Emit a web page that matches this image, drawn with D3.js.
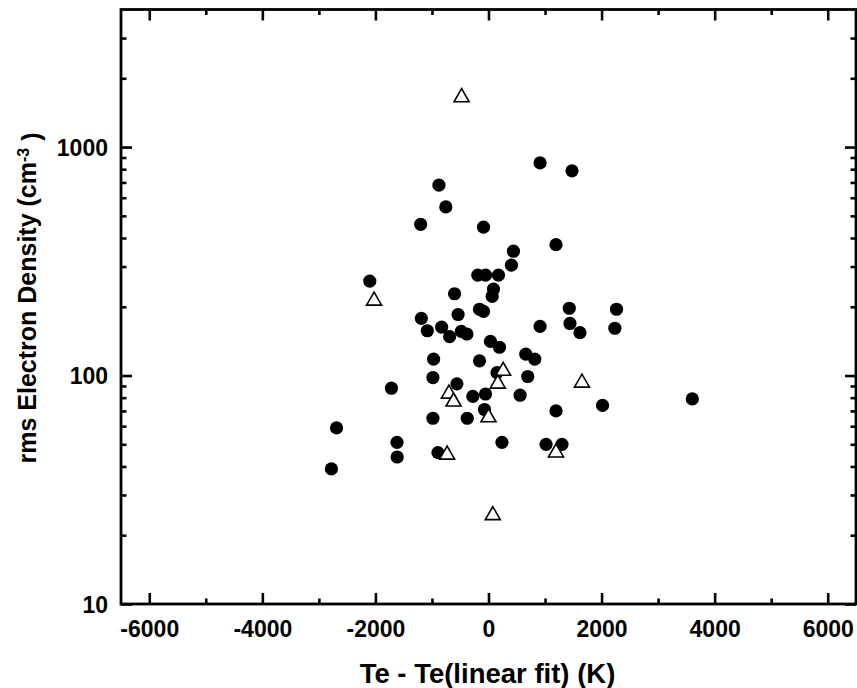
<!DOCTYPE html>
<html>
<head>
<meta charset="utf-8">
<script src="https://cdn.jsdelivr.net/npm/d3@7"></script>
<style>
  html, body { margin: 0; padding: 0; background: #fff; }
  svg { display: block; }
  text { font-family: "Liberation Sans", Arial, Helvetica, sans-serif; fill: #000; }
</style>
</head>
<body>
<svg id="chart" width="857" height="688"></svg>
<script>
// ---- data ----
const circleX = [-877,-755,-1200,-88,441,406,-189,-53,176,-2100,88,65,-600,-159,-88,-538,-1188,-1082,-829,-688,-482,-382,35,194,659,818,912,1429,1441,1618,2264,2235,912,1477,1194,-971,-159,150,694,-983,-1717,-559,-277,-53,559,-71,-983,-376,-2688,-1618,-1615,-894,238,-2779,1194,2017,3605,1018,1300];
const circleY = [681,547,459,446,350,304,275,275,275,259,239,222,228,195,191,185,178,157,163,148,156,152,141,133,124,118,164,197,169,154,195,161,852,787,374,118,116,103,99,98,88,92,81,83,82,71,65,65,59,51,44,46,51,39,70,74,79,50,50];
const triX = [-476,-2024,259,164,-700,-618,0,-732,1194,1653,76];
const triY = [1686,217,107,94,85,78.5,67,46,47,95,25];

const xTicks = [-6000,-4000,-2000,0,2000,4000,6000];
const xMinorTicks = [-5000,-3000,-1000,1000,3000,5000];
const yTicks = [10,100,1000];
const yMinorTicks = [20,30,40,50,60,70,80,90,200,300,400,500,600,700,800,900,2000,3000];
const xDomain = [-6500, 6500];
const yDomain = [10, 4000];
const xTitle = "Te - Te(linear fit) (K)";

// ---- layout ----
const L = 121, R = 856, T = 9.5, B = 604;
const svg = d3.select("#chart");
const x = d3.scaleLinear().domain(xDomain).range([L, R]);
const y = d3.scaleLog().domain(yDomain).range([B, T]);
const fmt = d => String(d);

const tickW = 2.6;
// bottom axis (ticks inward)
const gB = svg.append("g").attr("transform", `translate(0,${B})`);
gB.call(d3.axisBottom(x).tickValues(xTicks).tickSizeInner(-11).tickSizeOuter(0).tickPadding(17).tickFormat(fmt));
const gBm = svg.append("g").attr("transform", `translate(0,${B})`);
gBm.call(d3.axisBottom(x).tickValues(xMinorTicks).tickSizeInner(-5.5).tickSizeOuter(0).tickFormat(""));
// top axis
const gT = svg.append("g").attr("transform", `translate(0,${T})`);
gT.call(d3.axisTop(x).tickValues(xTicks).tickSizeInner(-11).tickSizeOuter(0).tickFormat(""));
const gTm = svg.append("g").attr("transform", `translate(0,${T})`);
gTm.call(d3.axisTop(x).tickValues(xMinorTicks).tickSizeInner(-5.5).tickSizeOuter(0).tickFormat(""));
// left axis
const gL = svg.append("g").attr("transform", `translate(${L},0)`);
gL.call(d3.axisLeft(y).tickValues(yTicks).tickSizeInner(-11).tickSizeOuter(0).tickPadding(13).tickFormat(fmt));
const gLm = svg.append("g").attr("transform", `translate(${L},0)`);
gLm.call(d3.axisLeft(y).tickValues(yMinorTicks).tickSizeInner(-5.5).tickSizeOuter(0).tickFormat(""));
// right axis
const gR = svg.append("g").attr("transform", `translate(${R},0)`);
gR.call(d3.axisRight(y).tickValues(yTicks).tickSizeInner(-11).tickSizeOuter(0).tickFormat(""));
const gRm = svg.append("g").attr("transform", `translate(${R},0)`);
gRm.call(d3.axisRight(y).tickValues(yMinorTicks).tickSizeInner(-5.5).tickSizeOuter(0).tickFormat(""));

svg.selectAll(".domain").remove();
svg.selectAll(".tick line").attr("stroke", "#000").attr("stroke-width", tickW);
svg.selectAll(".tick text")
  .style("font-family", '"Liberation Sans", Arial, sans-serif')
  .style("font-size", "23px").style("font-weight", "bold")
  .attr("fill", "#000");
gL.selectAll(".tick text").attr("dy", "0.36em");
gB.selectAll(".tick text").attr("dy", "0.71em");

// frame
svg.append("rect").attr("x", L).attr("y", T).attr("width", R - L).attr("height", B - T)
  .attr("fill", "none").attr("stroke", "#000").attr("stroke-width", 2.8);

// points
const circles = circleX.map((v, i) => ({x: v, y: circleY[i]}));
const tris = triX.map((v, i) => ({x: v, y: triY[i]}));

svg.append("g").selectAll("circle").data(circles).join("circle")
  .attr("cx", d => x(d.x)).attr("cy", d => y(d.y)).attr("r", 6.6).attr("fill", "#000");

const tw = 15, th = 13;
function triPath() {
  const p = d3.path();
  p.moveTo(0, -th / 2); p.lineTo(-tw / 2, th / 2); p.lineTo(tw / 2, th / 2); p.closePath();
  return p.toString();
}
svg.append("g").selectAll("path").data(tris).join("path")
  .attr("d", triPath())
  .attr("transform", d => `translate(${x(d.x)},${y(d.y)})`)
  .attr("fill", "#fff").attr("stroke", "#000").attr("stroke-width", 1.6);

// titles
svg.append("text").attr("x", (L + R) / 2 - 1).attr("y", 683)
  .attr("text-anchor", "middle").style("font-size", "27.5px").style("font-weight", "bold")
  .text(xTitle);

const yt = svg.append("text").attr("transform", `translate(36,298) rotate(-90)`)
  .attr("text-anchor", "middle").style("font-size", "25px").style("font-weight", "bold");
yt.append("tspan").text("rms Electron Density (cm");
yt.append("tspan").attr("dy", "-0.45em").style("font-size", "16px").text("-3");
yt.append("tspan").attr("dy", "0.45em").text(" )");
</script>
</body>
</html>
